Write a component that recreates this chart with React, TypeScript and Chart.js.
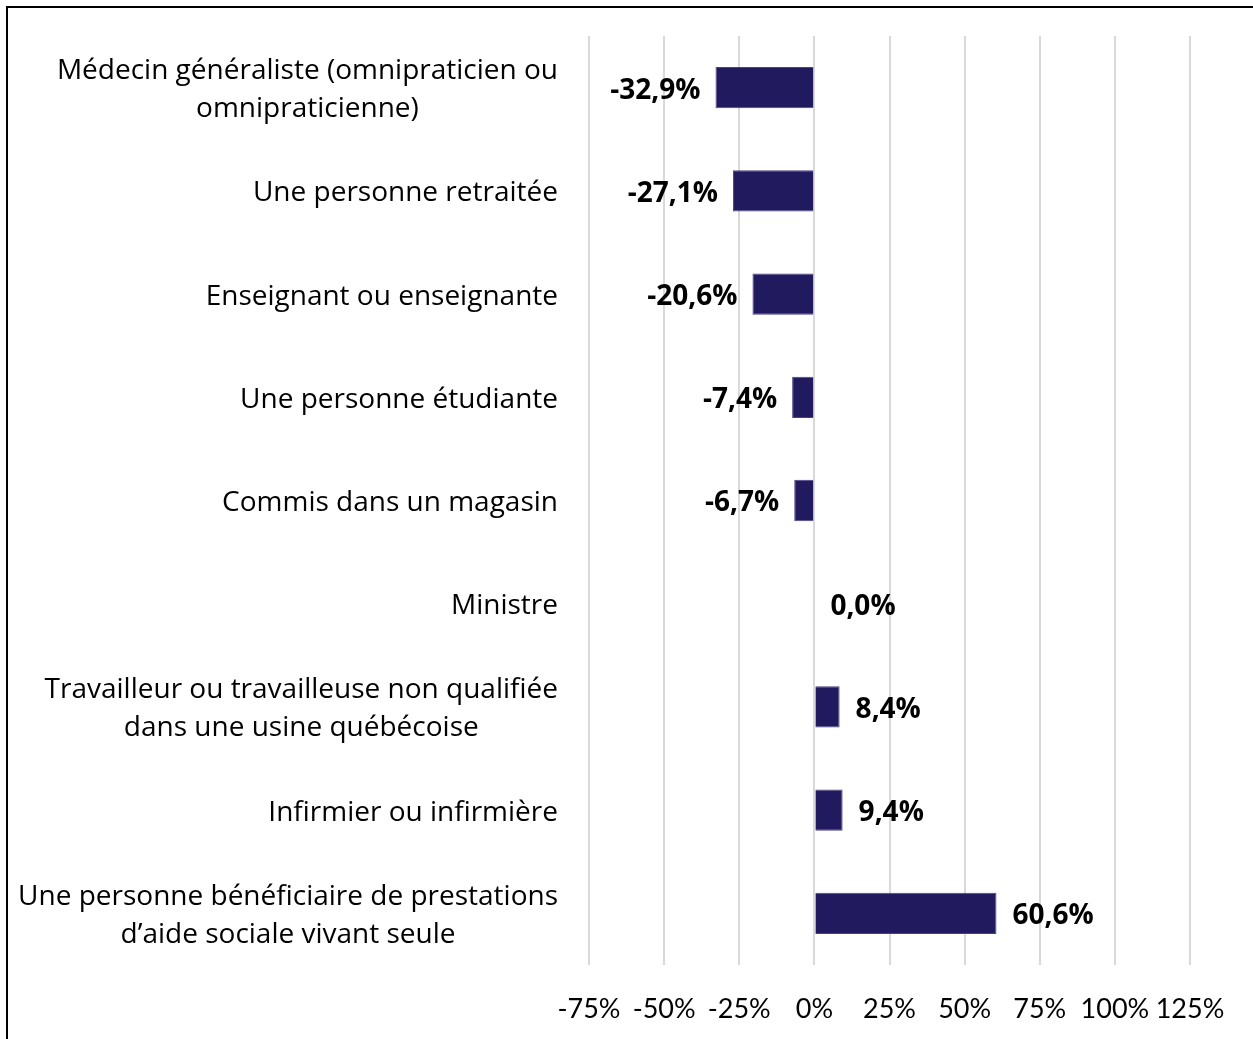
import React, { useEffect, useRef } from "react";
import { Chart, registerables } from "chart.js";

Chart.register(...registerables);

const categories: string[][] = [
  ["Médecin généraliste (omnipraticien ou", "omnipraticienne)"],
  ["Une personne retraitée"],
  ["Enseignant ou enseignante"],
  ["Une personne étudiante"],
  ["Commis dans un magasin"],
  ["Ministre"],
  ["Travailleur ou travailleuse non qualifiée", "dans une usine québécoise"],
  ["Infirmier ou infirmière"],
  ["Une personne bénéficiaire de prestations", "d’aide sociale vivant seule"],
];

const values: number[] = [-32.9, -27.1, -20.6, -7.4, -6.7, 0.0, 8.4, 9.4, 60.6];

const xTicks: number[] = [-75, -50, -25, 0, 25, 50, 75, 100, 125];

const FONT = "Lato, 'Open Sans', sans-serif";
const LABEL_FONT = "'Open Sans', Lato, sans-serif";

const labelPlugin = {
  id: "customLabels",
  afterDraw(chart: any) {
    const ctx = chart.ctx;
    const yScale = chart.scales.y;
    ctx.save();
    // category labels
    ctx.font = `28px ${LABEL_FONT}`;
    ctx.fillStyle = "#000";
    ctx.textBaseline = "middle";
    ctx.textAlign = "center";
    const rightEdge = 558;
    const lh = 38;
    categories.forEach((lines, i) => {
      const cy = yScale.getPixelForValue(i) + 2.5;
      const w = Math.max(...lines.map((l) => ctx.measureText(l).width));
      const cx = rightEdge - w / 2;
      lines.forEach((line, j) => {
        const y = cy + (j - (lines.length - 1) / 2) * lh;
        ctx.fillText(line, cx, y);
      });
    });
    // value labels
    ctx.font = `bold 28px ${LABEL_FONT}`;
    const meta = chart.getDatasetMeta(0);
    meta.data.forEach((bar: any, i: number) => {
      const v = values[i];
      const txt = v.toFixed(1).replace(".", ",") + "%";
      if (v < 0) {
        ctx.textAlign = "right";
        ctx.fillText(txt, bar.x - 15, bar.y + 3);
      } else {
        ctx.textAlign = "left";
        ctx.fillText(txt, bar.x + 16, bar.y + 3);
      }
    });
    ctx.restore();
  },
};

export default function App() {
  const ref = useRef<HTMLCanvasElement | null>(null);

  useEffect(() => {
    if (!ref.current) return;
    const chart = new Chart(ref.current, {
      type: "bar",
      data: {
        labels: categories.map((c) => c.join(" ")),
        datasets: [
          {
            data: values,
            backgroundColor: "#221a5e",
            borderColor: "#4b4185",
            borderWidth: 1,
            barPercentage: 1,
            categoryPercentage: 0.4,
          },
        ],
      },
      options: {
        indexAxis: "y",
        animation: false,
        responsive: false,
        maintainAspectRatio: false,
        layout: { padding: { left: 589, top: 36, right: 63, bottom: 0 } },
        plugins: {
          legend: { display: false },
          tooltip: { enabled: false },
        },
        scales: {
          y: {
            display: false,
          },
          x: {
            min: -75,
            max: 125,
            afterBuildTicks: (s: any) => {
              s.ticks = xTicks.map((v) => ({ value: v }));
            },
            afterFit: (s: any) => {
              s.height = 74;
            },
            grid: {
              color: "#d9d9d9",
              lineWidth: 2,
              drawTicks: false,
            },
            border: { display: false },
            ticks: {
              padding: 28,
              color: "#000",
              font: { family: FONT, size: 27 },
              callback: (v: any) => `${v}%`,
              maxRotation: 0,
              autoSkip: false,
            },
          },
        },
      },
      plugins: [labelPlugin],
    });
    return () => chart.destroy();
  }, []);

  return (
    <div style={{ position: "fixed", left: 0, top: 0, width: 1253, height: 1039, background: "#fff" }}>
      <div
        style={{
          position: "absolute",
          left: 6,
          top: 6,
          width: 1300,
          height: 1100,
          borderTop: "2px solid #000",
          borderLeft: "2px solid #000",
        }}
      />
      <canvas ref={ref} width={1253} height={1039} style={{ position: "absolute", left: 0, top: 0 }} />
    </div>
  );
}
